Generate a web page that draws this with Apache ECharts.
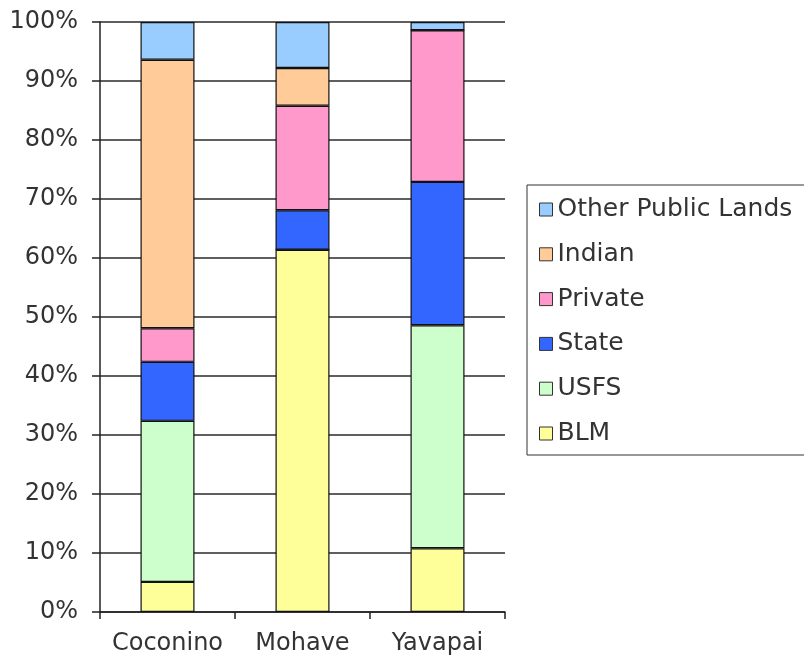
<!DOCTYPE html>
<html lang="en">
<head>
    <meta charset="UTF-8">
    <title>Land ownership by county</title>
    <script src="https://cdn.jsdelivr.net/npm/echarts@6/dist/echarts.min.js"></script>
    <style>
        html, body { margin: 0; padding: 0; background: #fff; }
    </style>
</head>
<body>
<div id="main" style="width: 804px;height:671px;"></div>
<script type="text/javascript">
    // counties on the x axis
    var counties = ['Coconino', 'Mohave', 'Yavapai'];
    // share of land (%) per owner
    var blm = [5.1, 61.4, 10.8];
    var usfs = [27.3, 0, 37.8];
    var state = [10.0, 6.7, 24.3];
    var privateLand = [5.7, 17.7, 25.7];
    var indian = [45.5, 6.4, 0];
    var otherPublic = [6.4, 7.8, 1.4];
    var yTicks = [0, 10, 20, 30, 40, 50, 60, 70, 80, 90, 100];

    var myChart = echarts.init(document.getElementById('main'));

    var font = 'DejaVu Sans';
    function bar(name, data, color) {
        return {
            name: name,
            type: 'bar',
            stack: 'total',
            barWidth: '40%',
            data: data,
            itemStyle: { color: color, borderColor: '#111', borderWidth: 1.2 }
        };
    }

    myChart.setOption({
        animation: false,
        grid: { left: 100, right: 299, top: 22, bottom: 59 },
        legend: {
            orient: 'vertical',
            left: 527,
            top: 185,
            padding: [12, 14, 9, 12],
            itemGap: 19.8,
            itemWidth: 13,
            itemHeight: 13,
            borderColor: '#333',
            borderWidth: 1,
            icon: 'rect',
            data: ['Other Public Lands', 'Indian', 'Private', 'State', 'USFS', 'BLM'],
            itemStyle: { borderColor: '#333', borderWidth: 1 },
            textStyle: { fontFamily: font, fontSize: 25, color: '#333', lineHeight: 24.5 }
        },
        xAxis: {
            type: 'category',
            data: counties,
            axisLine: { lineStyle: { color: '#222', width: 1.5 } },
            axisTick: { show: true, length: 7, lineStyle: { color: '#222', width: 1.5 } },
            axisLabel: { interval: 0, hideOverlap: false, fontFamily: font, fontSize: 24, color: '#333', margin: 20 }
        },
        yAxis: {
            type: 'value',
            min: yTicks[0],
            max: yTicks[yTicks.length - 1],
            interval: yTicks[1] - yTicks[0],
            axisLine: { show: true, lineStyle: { color: '#222', width: 1.5 } },
            axisTick: { show: true, length: 8, lineStyle: { color: '#222', width: 1.5 } },
            splitLine: { lineStyle: { color: '#2a2a2a', width: 1.5 } },
            axisLabel: { fontFamily: font, fontSize: 24, color: '#333', margin: 22, formatter: '{value}%' }
        },
        series: [
            bar('BLM', blm, '#ffff99'),
            bar('USFS', usfs, '#ccffcc'),
            bar('State', state, '#3366ff'),
            bar('Private', privateLand, '#ff99cc'),
            bar('Indian', indian, '#ffcc99'),
            bar('Other Public Lands', otherPublic, '#99ccff')
        ]
    });
</script>
</body>
</html>
